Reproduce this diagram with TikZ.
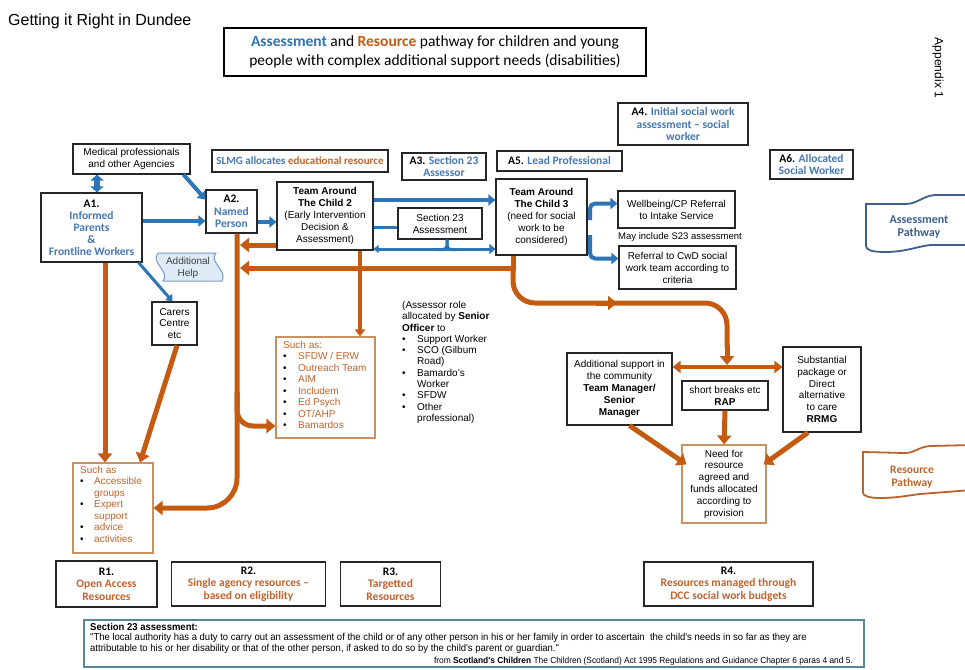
\documentclass[tikz,border=0pt]{standalone}
\usepackage{fontspec}
\setmainfont{Liberation Sans}
\newfontfamily\calib{Carlito}
\newfontfamily\narrowf{Liberation Sans}[FakeStretch=0.95]
\usetikzlibrary{arrows.meta}
\definecolor{ablue}{RGB}{46,117,182}
\definecolor{tblue}{RGB}{70,120,178}
\definecolor{aor}{RGB}{197,90,17}
\definecolor{tor}{RGB}{192,100,45}
\definecolor{tanc}{RGB}{200,145,95}
\definecolor{lblue}{RGB}{222,234,246}
\definecolor{hblue}{RGB}{120,155,195}
\definecolor{pblue}{RGB}{60,95,140}
\definecolor{porange}{RGB}{185,100,45}
\definecolor{tealc}{RGB}{90,135,150}
\newcommand\fsz[2]{\fontsize{#1}{#2}\selectfont}
\newcommand\bt[1]{\textcolor{tblue}{#1}}
\newcommand\ot[1]{\textcolor{tor}{#1}}
\newcommand\bu{\makebox[15pt][l]{\textcolor{black}{\textbullet}}}
\newcommand\ind{\hspace*{15pt}}
\tikzset{
  box/.style={draw=black!85, line width=1.1pt, align=center, inner sep=0pt, font=\fsz{10}{12}, text=black},
  lab/.style={box, font=\calib\bfseries\fsz{11.5}{12.5}},
  obox/.style={draw=tanc, line width=1.1pt, inner sep=0pt},
  barr/.style={draw=ablue, line width=4pt, -{Triangle[length=7pt,width=11pt]}},
  bthin/.style={draw=ablue, line width=3pt},
  bdbl/.style={draw=ablue, line width=6pt, {Triangle[length=6pt,width=13pt]}-{Triangle[length=6pt,width=13pt]}},
  oarr/.style={draw=aor, line width=5pt, -{Triangle[length=9pt,width=14pt]}},
  othin/.style={draw=aor, line width=3.5pt, -{Triangle[length=7pt,width=10pt]}},
  odbl/.style={draw=aor, line width=4pt, {Triangle[length=8pt,width=12pt]}-{Triangle[length=8pt,width=12pt]}},
  listtxt/.style={anchor=north west, inner sep=0pt, align=left, font=\fsz{10}{11.5}},
}
\begin{document}
\begin{tikzpicture}[x=1pt,y=-1pt]
\path[use as bounding box, fill=white] (0,0) rectangle (965,669);

% header
\node[anchor=west, inner sep=0pt, font=\fsz{16}{18}] (gir) at (8,21) {Getting it Right in Dundee};
\node[draw=black, line width=2.5pt, minimum width=422pt, minimum height=48pt, align=center, inner sep=0pt, font=\calib\fsz{15.5}{19.5}] (title) at (435,52)
  {\textcolor{ablue}{\bfseries Assessment} and \textcolor{aor}{\bfseries Resource} pathway for children and young\\people with complex additional support needs (disabilities)};
\node[rotate=-90, inner sep=0pt, font=\fsz{12}{14}] (app) at (938,68) {Appendix 1};

% assessment boxes
\node[box, minimum width=117pt, minimum height=30pt] (med) at (131.5,159) {Medical professionals\\and other Agencies};
\node[lab, minimum width=101pt, minimum height=69pt, font=\calib\bfseries\fsz{11.5}{12}] (a1) at (91.5,227.5) {A1.\\\bt{Informed}\\\bt{Parents}\\\bt{\&}\\\bt{Frontline Workers}};
\node[lab, minimum width=51pt, minimum height=43pt] (a2) at (231.5,211.5) {A2.\\\bt{Named}\\\bt{Person}};
\node[lab, minimum width=176pt, minimum height=22pt, font=\calib\bfseries\fsz{11}{12}] (slmg) at (300,161) {\bt{SLMG allocates} \ot{educational resource}};
\node[lab, minimum width=84pt, minimum height=27pt] (a3) at (444,166.5) {A3. \bt{Section 23}\\\bt{Assessor}};
\node[box, minimum width=96pt, minimum height=68pt] (t2) at (325,216) {\textbf{Team Around}\\\textbf{The Child 2}\\(Early Intervention\\Decision \&\\Assessment)};
\node[box, minimum width=84pt, minimum height=31pt] (s23) at (440,223.5) {Section 23\\Assessment};
\node[box, minimum width=91pt, minimum height=76pt] (t3) at (541.5,217) {\textbf{Team Around}\\\textbf{The Child 3}\\(need for social\\work to be\\considered)};
\node[lab, minimum width=125pt, minimum height=20pt] (a5) at (559.5,161) {A5. \bt{Lead Professional}};
\node[lab, minimum width=130pt, minimum height=42pt] (a4) at (683,124) {A4. \bt{Initial social work}\\\bt{assessment – social}\\\bt{worker}};
\node[lab, minimum width=83pt, minimum height=29pt] (a6) at (811.5,164.5) {A6. \bt{Allocated}\\\bt{Social Worker}};
\node[box, minimum width=117pt, minimum height=37pt] (well) at (676.5,209.5) {Wellbeing/CP Referral\\to Intake Service};
\node[inner sep=0pt, font=\fsz{9.5}{11}] (may) at (680,237) {May include S23 assessment};
\node[box, minimum width=117pt, minimum height=43pt] (ref) at (677.5,267.5) {Referral to CwD social\\work team according to\\criteria};
\node[box, minimum width=45pt, minimum height=43pt, font=\fsz{10}{11.5}] (carers) at (174.5,323.5) {Carers\\Centre\\etc};

% additional help
\draw[draw=hblue, fill=lblue, line width=1pt] (158,253) -- (216,253) .. controls (208,261) and (228,271) .. (222,281) -- (163,281) .. controls (171,273) and (150,262) .. (158,253) -- cycle;
\node[align=center, inner sep=0pt, text=black!75, font=\fsz{10}{12}] (help) at (188,268) {Additional\\Help};

% pathway banners
\draw[draw=pblue, line width=1.8pt] (866,204) -- (905,204) .. controls (918,204) and (922,196) .. (935,195) -- (972,195) -- (972,245) -- (930,245) .. controls (915,247) and (905,252) .. (885,252) .. controls (872,252) and (866,250) .. (866,246) -- cycle;
\node[align=center, inner sep=0pt, text=pblue, font=\calib\bfseries\fsz{12}{12.5}] (apath) at (919,227) {Assessment\\Pathway};
\draw[draw=porange, line width=1.8pt] (863,452) -- (905,453) .. controls (915,453) and (918,447) .. (930,446) -- (972,445) -- (972,490) -- (920,494) .. controls (905,496) and (895,498) .. (880,498) .. controls (870,498) and (863,496) .. (863,493) -- cycle;
\node[align=center, inner sep=0pt, text=porange, font=\calib\bfseries\fsz{11.5}{12.5}] (rpath) at (912,477) {Resource\\Pathway};

% resource boxes
\node[obox, minimum width=99pt, minimum height=101pt] (msuch) at (325.5,387.5) {};
\node[listtxt] (msucht) at (283,341) {\ot{Such as:}\\\bu\ot{SFDW / ERW}\\\bu\ot{Outreach Team}\\\bu\ot{AIM}\\\bu\ot{Includem}\\\bu\ot{Ed Psych}\\\bu\ot{OT/AHP}\\\bu\ot{Bamardos}};
\node[obox, minimum width=80pt, minimum height=90pt] (lsuch) at (113,508) {};
\node[listtxt] (lsucht) at (80,466) {\ot{Such as}\\\makebox[14pt][l]{\textbullet}\ot{Accessible}\\\hspace*{14pt}\ot{groups}\\\makebox[14pt][l]{\textbullet}\ot{Expert}\\\hspace*{14pt}\ot{support}\\\makebox[14pt][l]{\textbullet}\ot{advice}\\\makebox[14pt][l]{\textbullet}\ot{activities}};
\node[listtxt, font=\fsz{10}{11.3}] (assr) at (402,301) {(Assessor role\\allocated by \textbf{Senior}\\\textbf{Officer} to\\\bu Support Worker\\\bu SCO (Gilbum\\\ind Road)\\\bu Bamardo's\\\ind Worker\\\bu SFDW\\\bu Other\\\ind professional)};

\node[box, minimum width=105pt, minimum height=72pt, font=\fsz{10}{11.8}] (addsup) at (619.5,389) {Additional support in\\the community\\\textbf{Team Manager/}\\\textbf{Senior}\\\textbf{Manager}};
\node[box, minimum width=86pt, minimum height=29pt] (short) at (725,395.5) {short breaks etc\\\textbf{RAP}};
\node[box, minimum width=78pt, minimum height=85pt, font=\fsz{10}{11.8}] (subst) at (822,389.5) {Substantial\\package or\\Direct\\alternative\\to care\\\textbf{RRMG}};
\node[obox, minimum width=84pt, minimum height=78pt, align=center, font=\fsz{10}{11.8}] (need) at (724,484) {Need for\\resource\\agreed and\\funds allocated\\according to\\provision};

\node[lab, minimum width=101pt, minimum height=46pt] (r1) at (106.5,584) {R1.\\\ot{Open Access}\\\ot{Resources}};
\node[lab, minimum width=154pt, minimum height=44pt] (r2) at (248.5,584) {R2.\\\ot{Single agency resources –}\\\ot{based on eligibility}};
\node[lab, minimum width=100pt, minimum height=44pt] (r3) at (390.5,584) {R3.\\\ot{Targetted}\\\ot{Resources}};
\node[lab, minimum width=169pt, minimum height=44pt] (r4) at (728.5,584) {R4.\\\ot{Resources managed through}\\\ot{DCC social work budgets}};

% note
\node[draw=tealc, line width=1.2pt, minimum width=780pt, minimum height=47pt, inner sep=0pt] (note) at (474,643.5) {};
\node[anchor=north west, inner sep=0pt, align=left, font=\narrowf\fsz{10}{10.5}] (notet) at (90,623) {\textbf{Section 23 assessment:}\\"The local authority has a duty to carry out an assessment of the child or of any other person in his or her family in order to ascertain\ \ the child's needs in so far as they are\\attributable to his or her disability or that of the other person, if asked to do so by the child's parent or guardian."};
\node[anchor=south east, inner sep=0pt, font=\narrowf\fsz{8.8}{9}] (cite) at (853,666) {from \textbf{Scotland's Children} The Children (Scotland) Act 1995 Regulations and Guidance Chapter 6 paras 4 and 5.};

% coordinates
\coordinate (c97) at (97,0);
\coordinate (c105) at (105,0);
\coordinate (spine) at (240,0);
\coordinate (sp1) at (237,392);
\coordinate (j3) at (513,268);
\coordinate (hmid) at (620,303);
\coordinate (hj) at (727,367);

% blue connectors
\draw[bdbl] (med.south -| c97) -- (a1.north -| c97);
\draw[barr] ([xshift=-7pt]med.south east) -- ([yshift=-10pt]a2.north west);
\draw[barr] ([yshift=6.5pt]a1.east) -- ([yshift=6.5pt]a1.east -| a2.west);
\draw[barr] ([yshift=-10.5pt]a2.east) -- ([yshift=-10.5pt]a2.east -| t2.west);
\draw[barr] ([yshift=16pt]t2.east) -- ([yshift=16pt]t2.east -| t3.west);
\draw[bthin] ([yshift=-11pt]t2.east) -- ([yshift=-11pt]t2.east -| s23.west);
\draw[draw=ablue, line width=3pt, {Triangle[length=5pt,width=8pt]}-{Triangle[length=6pt,width=10pt]}] ([yshift=-33pt]t2.east) -- ([yshift=-33pt]t2.east -| t3.west);
\draw[bthin, rounded corners=4] ([xshift=-3pt,yshift=-10pt]s23.south) -| ([xshift=7pt]s23.south);
\draw[bthin, rounded corners=4] ([xshift=17pt,yshift=-10pt]s23.south) -| ([xshift=7pt]s23.south);
\draw[draw=ablue, line width=3pt, -{Triangle[length=6pt,width=9pt]}] ([xshift=-4pt]a1.south east) -- ([xshift=-2pt]carers.north);
\draw[barr, rounded corners=5] ([xshift=2.5pt,yshift=-3pt]t3.east) |- ([yshift=6pt]well.west);
\draw[barr, rounded corners=5] ([xshift=2.5pt,yshift=-18pt]t3.east) |- ([yshift=9pt]ref.west);

% orange connectors
\draw[oarr, rounded corners=30] ([xshift=5.5pt]a2.south) |- (lsuch.east);
\draw[oarr, rounded corners=16] (sp1) |- ([yshift=-38.5pt]msuch.west);
\draw[oarr] ([yshift=-29pt]t2.west) -- ([yshift=-29pt]t2.west -| spine);
\draw[oarr] (t3.south -| j3) -- (j3) -- (j3 -| spine);
\draw[draw=aor, line width=5pt, rounded corners=22] (j3) |- (hmid) -| ([yshift=20pt]hj);
\draw[oarr] (596,303) -- (617,303);
\draw[oarr] ([yshift=22pt]hj) -- ([yshift=2pt]hj);
\draw[odbl] (addsup.east |- hj) -- (subst.west |- hj);
\draw[othin] ([xshift=35pt]t2.south) -- ([xshift=35pt]t2.south |- msuch.north);
\draw[oarr] (a1.south -| c105) -- (lsuch.north -| c105);
\draw[oarr] ([xshift=2.5pt]carers.south) -- ([xshift=27pt]lsuch.north);
\draw[oarr] (short.south) -- (need.north);
\draw[oarr] ([xshift=10pt]addsup.south) -- ([xshift=5pt,yshift=-20pt]need.north west);
\draw[oarr] ([xshift=-14pt]subst.south) -- ([xshift=-3pt,yshift=-20pt]need.north east);
\end{tikzpicture}
\end{document}
